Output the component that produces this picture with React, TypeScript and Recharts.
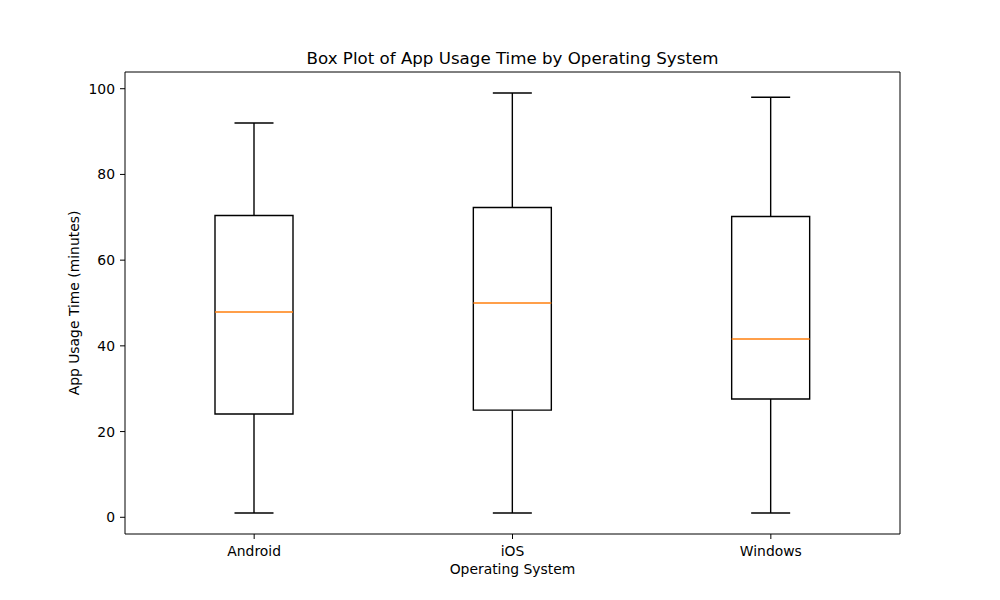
import React from 'react'
import {
  ComposedChart, Bar, XAxis, YAxis, ReferenceArea, Label,
} from 'recharts'

const categories = ['Android', 'iOS', 'Windows']
const mins = [1, 1, 1]
const q1s = [24.1, 25.0, 27.6]
const medians = [47.9, 50.0, 41.6]
const q3s = [70.4, 72.3, 70.2]
const maxes = [92, 99, 98]
const yTicks = [0, 20, 40, 60, 80, 100]

const FONT = '"DejaVu Sans", sans-serif'
const LINE = '#000000'
const MEDIAN = '#ff7f0e'
const SW = 1.4
const Y_DOMAIN: [number, number] = [-3.9, 103.9]

// stacked segments: invisible base, lower whisker, lower box, upper box, upper whisker
const data = categories.map((name, i) => ({
  name,
  base: mins[i],
  whiskerLo: q1s[i] - mins[i],
  boxLo: medians[i] - q1s[i],
  boxHi: q3s[i] - medians[i],
  whiskerHi: maxes[i] - q3s[i],
}))

const Empty = () => <g />

const WhiskerLow = (p: any) => {
  const cx = p.x + p.width / 2
  const capHalf = p.width / 4
  const bottom = p.y + p.height
  return (
    <g>
      <line x1={cx} y1={p.y} x2={cx} y2={bottom} stroke={LINE} strokeWidth={SW} />
      <line x1={cx - capHalf} y1={bottom} x2={cx + capHalf} y2={bottom} stroke={LINE} strokeWidth={SW} />
    </g>
  )
}

const WhiskerHigh = (p: any) => {
  const cx = p.x + p.width / 2
  const capHalf = p.width / 4
  return (
    <g>
      <line x1={cx} y1={p.y} x2={cx} y2={p.y + p.height} stroke={LINE} strokeWidth={SW} />
      <line x1={cx - capHalf} y1={p.y} x2={cx + capHalf} y2={p.y} stroke={LINE} strokeWidth={SW} />
    </g>
  )
}

const BoxLow = (p: any) => {
  const { x, y, width: w, height: h } = p
  return (
    <path d={`M${x},${y} L${x},${y + h} L${x + w},${y + h} L${x + w},${y}`}
      fill="none" stroke={LINE} strokeWidth={SW} />
  )
}

const BoxHigh = (p: any) => {
  const { x, y, width: w, height: h } = p
  return (
    <g>
      <path d={`M${x},${y + h} L${x},${y} L${x + w},${y} L${x + w},${y + h}`}
        fill="none" stroke={LINE} strokeWidth={SW} />
      <line x1={x} y1={y + h} x2={x + w} y2={y + h} stroke={MEDIAN} strokeWidth={SW} />
    </g>
  )
}

export default function App() {
  const tick = { fontSize: 13.9, fill: '#000', fontFamily: FONT }
  return (
    <div style={{ position: 'absolute', left: 0, top: 0, width: 1000, height: 600, background: '#fff' }}>
      <div style={{
        position: 'absolute', left: 125, top: 49, width: 775, textAlign: 'center',
        fontFamily: FONT, fontSize: 16.67, lineHeight: '20px', color: '#000',
      }}>
        Box Plot of App Usage Time by Operating System
      </div>
      <ComposedChart
        width={1000}
        height={600}
        data={data}
        margin={{ top: 72, right: 100, bottom: 26, left: 23 }}
      >
        <XAxis
          dataKey="name"
          height={40}
          tick={tick}
          tickSize={5}
          tickMargin={7}
          tickLine={{ stroke: LINE, strokeWidth: 1 }}
          axisLine={false}
        >
          <Label value="Operating System" position="insideBottom" offset={0}
            style={{ fontSize: 13.9, fill: '#000', fontFamily: FONT }} />
        </XAxis>
        <YAxis
          type="number"
          domain={Y_DOMAIN}
          ticks={yTicks}
          width={102}
          tick={tick}
          tickSize={5}
          tickMargin={5}
          tickLine={{ stroke: LINE, strokeWidth: 1 }}
          axisLine={false}
        >
          <Label value="App Usage Time (minutes)" position="center" angle={-90}
            style={{ fontSize: 13.9, fill: '#000', fontFamily: FONT, textAnchor: 'middle' }} />
        </YAxis>
        <Bar dataKey="base" stackId="box" barSize={78} shape={Empty} isAnimationActive={false} />
        <Bar dataKey="whiskerLo" stackId="box" barSize={78} shape={WhiskerLow} isAnimationActive={false} />
        <Bar dataKey="boxLo" stackId="box" barSize={78} shape={BoxLow} isAnimationActive={false} />
        <Bar dataKey="boxHi" stackId="box" barSize={78} shape={BoxHigh} isAnimationActive={false} />
        <Bar dataKey="whiskerHi" stackId="box" barSize={78} shape={WhiskerHigh} isAnimationActive={false} />
        <ReferenceArea y1={Y_DOMAIN[0]} y2={Y_DOMAIN[1]} fill="none" stroke={LINE} strokeWidth={1} fillOpacity={0} />
      </ComposedChart>
    </div>
  )
}
